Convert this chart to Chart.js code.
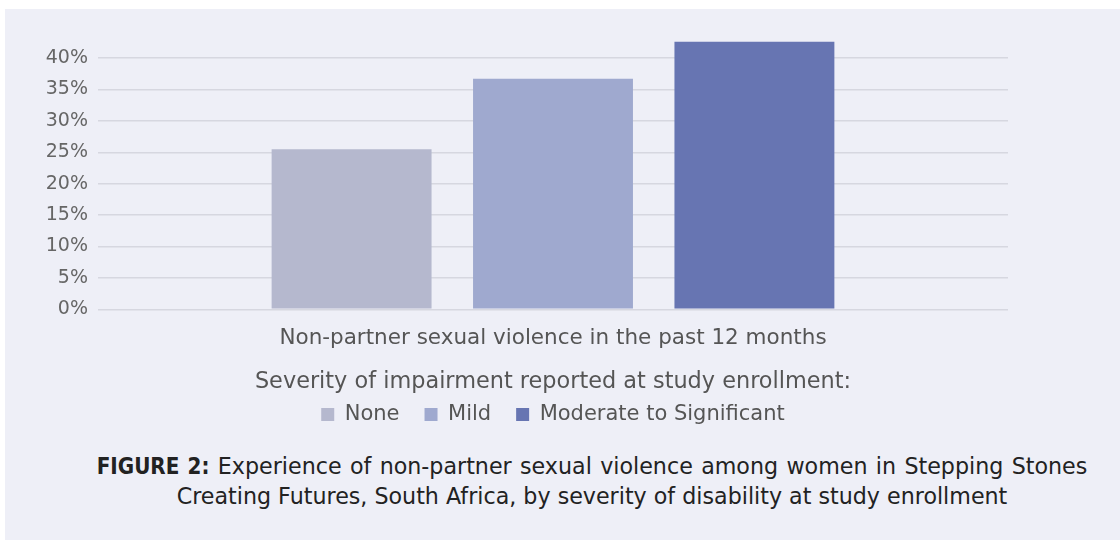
<!DOCTYPE html>
<html>
<head>
<meta charset="utf-8">
<script src="https://cdn.jsdelivr.net/npm/chart.js@4.4.1/dist/chart.umd.min.js"></script>
<style>
  html, body { margin: 0; padding: 0; background: #ffffff; }
  body { width: 1120px; height: 540px; position: relative; overflow: hidden; }
  #panel { position: absolute; left: 5px; top: 9px; width: 1115px; height: 531px; background: #EEEFF7; }
  #wrap { position: absolute; left: 0; top: 0; width: 1120px; height: 435px; }
  #caption { position: absolute; left: 0; top: 451px; width: 1184px; text-align: center;
    font-family: "DejaVu Sans", sans-serif; font-size: 22.2px; line-height: 30px; color: #222; }
  #caption b { font-family: "DejaVu Sans Condensed", "DejaVu Sans", sans-serif; font-weight: bold; }
  #caption .l1 { word-spacing: 1.3px; }
</style>
</head>
<body>
<div id="panel"></div>
<div id="wrap"><canvas id="c"></canvas></div>
<div id="caption"><span class="l1"><b>FIGURE 2:</b> Experience of non-partner sexual violence among women in Stepping Stones</span><br>Creating Futures, South Africa, by severity of disability at study enrollment</div>
<script>
const categories = ["Non-partner sexual violence in the past 12 months"];
const seriesNames = ["None", "Mild", "Moderate to Significant"];
const noneValues = [25.5];
const mildValues = [36.7];
const moderateValues = [42.6];
const seriesColors = ["#B5B8CE", "#9FA9CF", "#6775B2"];
const legendTitle = "Severity of impairment reported at study enrollment:";

const FONT = "'DejaVu Sans', sans-serif";
const allValues = [noneValues, mildValues, moderateValues];

new Chart(document.getElementById('c'), {
  type: 'bar',
  data: {
    labels: categories,
    datasets: seriesNames.map((n, i) => ({
      label: n,
      data: allValues[i],
      backgroundColor: seriesColors[i],
      borderWidth: 0,
      yAxisID: 'y',
      categoryPercentage: 0.664,
      barPercentage: 0.794
    }))
  },
  options: {
    responsive: true,
    maintainAspectRatio: false,
    animation: false,
    devicePixelRatio: 1,
    layout: { padding: { left: 0, right: 14, top: 33, bottom: 0 } },
    plugins: {
      tooltip: { enabled: false },
      legend: {
        position: 'bottom',
        title: { display: true, text: legendTitle, color: '#555', font: { family: FONT, size: 22.4 }, padding: { top: 4, bottom: -19 } },
        labels: { boxWidth: 13, boxHeight: 13, color: '#555', font: { family: FONT, size: 21 }, padding: 25 }
      }
    },
    scales: {
      x: {
        grid: { display: false, drawTicks: false },
        border: { display: false },
        ticks: { color: '#555', font: { family: FONT, size: 21.5 }, padding: 16 }
      },
      y: {
        position: 'left',
        min: 0, max: 44,
        afterBuildTicks: (s) => { s.ticks = s.ticks.filter(t => t.value % 5 === 0); },
        afterFit: (s) => { s.width = 98; },
        grid: { color: '#D6D7E0', lineWidth: 1.5, drawTicks: false },
        border: { display: false },
        ticks: { stepSize: 5, padding: 10, color: '#666', font: { family: FONT, size: 19 }, callback: v => v + '%' }
      },
      spacer: {
        type: 'linear',
        position: 'right',
        min: 0, max: 44,
        afterFit: (s) => { s.width = 98; },
        grid: { display: false, drawTicks: false },
        border: { display: false },
        ticks: { display: false }
      }
    }
  }
});
</script>
</body>
</html>
